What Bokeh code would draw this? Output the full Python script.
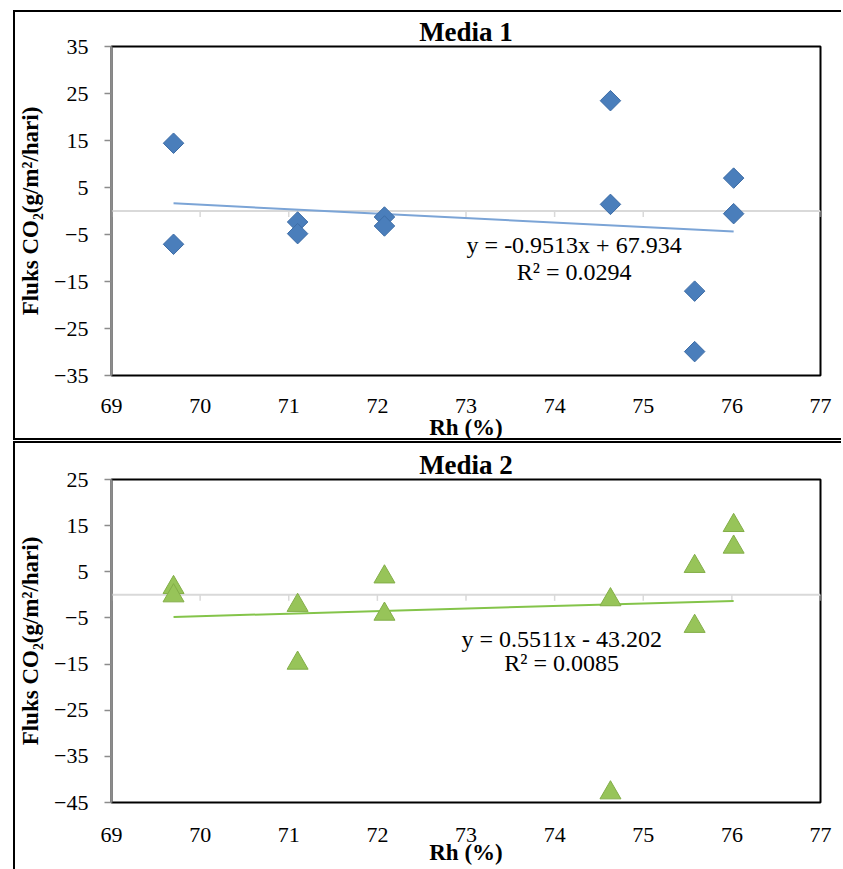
from bokeh.plotting import figure
from bokeh.models import FixedTicker, Label, Range1d, ColumnDataSource, Span
from bokeh.layouts import column
from bokeh.embed import file_html
from bokeh.resources import INLINE

# Relative humidity (%) for each measurement, two readings per humidity level
rh = [69.70, 69.70, 71.10, 71.10, 72.08, 72.08, 74.63, 74.63, 75.58, 75.58, 76.02, 76.02]

# CO2 flux (g/m2/day) for the two growing media
flux_media1 = [14.42, -7.08, -2.34, -4.82, -1.28, -3.19, 23.47, 1.41, -17.05, -29.92, 7.00, -0.57]
flux_media2 = [1.60, -0.20, -2.27, -14.80, 3.90, -4.18, -1.05, -42.90, 6.17, -6.82, 15.04, 10.35]

# Linear trendlines (slope, intercept, R^2)
trend_slope = [-0.9513, 0.5511]
trend_intercept = [67.934, -43.202]
trend_r2 = [0.0294, 0.0085]

panel_titles = ["Media 1", "Media 2"]
x_ticks = [69, 70, 71, 72, 73, 74, 75, 76, 77]
y_ticks_media1 = [-35, -25, -15, -5, 5, 15, 25, 35]
y_ticks_media2 = [-45, -35, -25, -15, -5, 5, 15, 25]

SERIF = "Times New Roman, Liberation Serif, serif"


def equation_text(m, b):
    sign = "+" if b >= 0 else "-"
    return f"y = {m:.4f}x {sign} {abs(b):.3f}"


def make_panel(title, flux, y_ticks, m, b, r2, marker, fill, line, trend_color,
               height, min_top, min_bottom, tick_gap, label_gap,
               eq_x, eq_y1, eq_y2):
    frame_h = height - min_top - min_bottom
    p = figure(width=828, height=height, output_backend="svg", toolbar_location=None,
               x_range=Range1d(x_ticks[0], x_ticks[-1]),
               y_range=Range1d(y_ticks[0], y_ticks[-1]),
               min_border_left=92, min_border_right=23,
               min_border_top=min_top, min_border_bottom=min_bottom)
    p.grid.visible = False
    p.background_fill_color = "white"
    p.border_fill_color = "white"
    p.outline_line_color = "black"
    p.outline_line_width = 2

    p.title.text = title
    p.title.align = "center"
    p.title.offset = 7
    p.title.text_font = SERIF
    p.title.text_font_style = "bold"
    p.title.text_font_size = "27px"
    p.title.text_color = "black"
    p.title.standoff = 0

    # bottom axis: tick labels and axis title only
    xa = p.xaxis[0]
    xa.ticker = FixedTicker(ticks=x_ticks)
    xa.axis_line_color = None
    xa.major_tick_line_color = None
    xa.minor_tick_line_color = None
    xa.major_label_standoff = tick_gap
    xa.major_label_text_font = SERIF
    xa.major_label_text_font_size = "22px"
    xa.major_label_text_color = "black"
    xa.axis_label = "Rh (%)"
    xa.axis_label_text_font = SERIF
    xa.axis_label_text_font_style = "bold"
    xa.axis_label_text_font_size = "23px"
    xa.axis_label_text_color = "black"
    xa.axis_label_standoff = label_gap

    # left axis
    ya = p.yaxis[0]
    ya.ticker = FixedTicker(ticks=y_ticks)
    ya.axis_line_color = "#8C8C8C"
    ya.axis_line_width = 2
    ya.major_tick_line_color = "#8C8C8C"
    ya.major_tick_line_width = 1.5
    ya.major_tick_out = 7
    ya.major_tick_in = 0
    ya.minor_tick_line_color = None
    ya.major_label_standoff = 16
    ya.major_label_text_font = SERIF
    ya.major_label_text_font_size = "22px"
    ya.major_label_text_color = "black"
    ya.axis_label = "Fluks CO\u2082(g/m\u00b2/hari)"
    ya.axis_label_text_font = SERIF
    ya.axis_label_text_font_style = "bold"
    ya.axis_label_text_font_size = "23px"
    ya.axis_label_text_color = "black"
    ya.axis_label_standoff = 8

    # horizontal axis crossing at zero, with short ticks pointing down
    p.add_layout(Span(location=0, dimension="width", line_color="#D9D9D9",
                      line_width=2, level="underlay"))
    tick_len = 6 * (y_ticks[-1] - y_ticks[0]) / frame_h
    p.segment(x0=x_ticks, x1=x_ticks, y0=[0] * len(x_ticks), y1=[-tick_len] * len(x_ticks),
              line_color="#D9D9D9", line_width=1.5)

    # trendline over the measured humidity span
    x0, x1 = min(rh), max(rh)
    trend = ColumnDataSource(dict(x=[x0, x1], y=[m * x0 + b, m * x1 + b]))
    p.line("x", "y", source=trend, line_color=trend_color, line_width=2)

    src = ColumnDataSource(dict(x=rh, y=flux))
    if marker == "diamond":
        p.scatter("x", "y", source=src, marker="square", angle=0.785398, size=14.5,
                  fill_color=fill, line_color=line, line_width=1)
    else:
        p.scatter("x", "y", source=src, marker="triangle", size=21,
                  fill_color=fill, line_color=line, line_width=1)

    p.add_layout(Label(x=eq_x, y=eq_y1, text=equation_text(m, b), text_font=SERIF,
                       text_font_size="24px", text_align="center",
                       text_baseline="middle", text_color="black"))
    p.add_layout(Label(x=eq_x, y=eq_y2, text=f"R\u00b2 = {r2:.4f}", text_font=SERIF,
                       text_font_size="24px", text_align="center",
                       text_baseline="middle", text_color="black"))
    return p


p1 = make_panel(panel_titles[0], flux_media1, y_ticks_media1,
                trend_slope[0], trend_intercept[0], trend_r2[0],
                "diamond", "#4A7EBB", "#3E6DA6", "#7BA4D6",
                height=430, min_top=34, min_bottom=66, tick_gap=17, label_gap=-1,
                eq_x=74.22, eq_y1=-7.28, eq_y2=-12.94)
# the lower panel runs a few pixels past the page bottom; the wrapper clips it
p2 = make_panel(panel_titles[1], flux_media2, y_ticks_media2,
                trend_slope[1], trend_intercept[1], trend_r2[1],
                "triangle", "#97C459", "#83AE48", "#84C44A",
                height=428, min_top=36, min_bottom=69, tick_gap=19, label_gap=-5,
                eq_x=74.08, eq_y1=-9.46, eq_y2=-14.87)

p1.styles = {"border-top": "2px solid black", "border-left": "2px solid black",
             "border-bottom": "2px solid black"}
p2.styles = {"border-top": "2px solid black", "border-left": "2px solid black"}
p1.margin = (10, 0, 0, 13)
p2.margin = (1, 0, 0, 13)

layout = column(p1, p2, spacing=0, width=843, height=869,
                styles={"overflow": "hidden"})

with open("out.html", "w") as f:
    f.write(file_html(layout, INLINE, title="Fluks CO2 vs Rh"))
